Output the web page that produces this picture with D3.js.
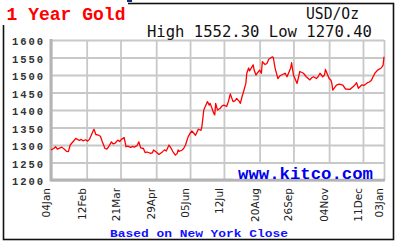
<!DOCTYPE html>
<html><head><meta charset="utf-8">
<script src="https://cdn.jsdelivr.net/npm/d3@7"></script>
<style>html,body{margin:0;padding:0;background:#fff}svg{display:block}</style>
</head><body>
<svg id="chart" width="398" height="246"></svg>
<script>
// ---- data ----
const dates = ["2019-01-04","2019-01-07","2019-01-09","2019-01-11","2019-01-14","2019-01-16","2019-01-18","2019-01-21","2019-01-23","2019-01-25","2019-01-29","2019-01-31","2019-02-04","2019-02-06","2019-02-08","2019-02-11","2019-02-13","2019-02-15","2019-02-19","2019-02-20","2019-02-22","2019-02-25","2019-02-27","2019-03-01","2019-03-04","2019-03-06","2019-03-08","2019-03-11","2019-03-13","2019-03-15","2019-03-18","2019-03-20","2019-03-22","2019-03-25","2019-03-27","2019-03-29","2019-04-01","2019-04-03","2019-04-05","2019-04-08","2019-04-10","2019-04-12","2019-04-15","2019-04-17","2019-04-19","2019-04-23","2019-04-25","2019-04-26","2019-04-29","2019-05-02","2019-05-06","2019-05-08","2019-05-10","2019-05-13","2019-05-15","2019-05-17","2019-05-20","2019-05-22","2019-05-23","2019-05-24","2019-05-27","2019-05-29","2019-05-31","2019-06-03","2019-06-05","2019-06-07","2019-06-11","2019-06-14","2019-06-17","2019-06-18","2019-06-20","2019-06-24","2019-06-26","2019-06-27","2019-07-01","2019-07-02","2019-07-03","2019-07-05","2019-07-08","2019-07-10","2019-07-12","2019-07-15","2019-07-17","2019-07-19","2019-07-22","2019-07-24","2019-07-26","2019-07-29","2019-07-30","2019-08-01","2019-08-02","2019-08-05","2019-08-06","2019-08-08","2019-08-09","2019-08-13","2019-08-14","2019-08-16","2019-08-20","2019-08-22","2019-08-23","2019-08-26","2019-08-28","2019-08-30","2019-09-03","2019-09-04","2019-09-06","2019-09-09","2019-09-11","2019-09-13","2019-09-17","2019-09-19","2019-09-23","2019-09-24","2019-09-26","2019-09-30","2019-10-03","2019-10-07","2019-10-10","2019-10-14","2019-10-16","2019-10-18","2019-10-21","2019-10-23","2019-10-25","2019-10-28","2019-10-30","2019-10-31","2019-11-04","2019-11-06","2019-11-07","2019-11-08","2019-11-12","2019-11-15","2019-11-19","2019-11-22","2019-11-27","2019-12-02","2019-12-04","2019-12-06","2019-12-10","2019-12-12","2019-12-16","2019-12-18","2019-12-20","2019-12-24","2019-12-27","2019-12-31","2020-01-02","2020-01-03"];
const prices = [1286,1290,1295,1288,1292,1294,1289,1282,1281,1300,1312,1319,1313,1316,1312,1315,1311,1316,1340,1345,1330,1328,1325,1310,1290,1288,1295,1309,1303,1305,1314,1310,1316,1321,1295,1297,1293,1296,1294,1298,1309,1292,1290,1278,1280,1276,1278,1286,1280,1273,1281,1286,1283,1300,1292,1282,1271,1276,1286,1282,1285,1290,1300,1324,1333,1340,1328,1345,1342,1354,1400,1424,1414,1419,1390,1386,1419,1400,1405,1412,1414,1410,1425,1446,1424,1426,1433,1424,1419,1440,1448,1476,1505,1520,1512,1529,1515,1500,1514,1505,1538,1530,1533,1545,1552,1550,1519,1490,1497,1500,1505,1495,1520,1535,1500,1476,1510,1505,1495,1486,1492,1495,1490,1495,1505,1495,1500,1516,1490,1485,1476,1457,1471,1474,1471,1460,1459,1471,1478,1462,1472,1470,1478,1480,1484,1505,1514,1520,1528,1552];
const yTicks = [1200,1250,1300,1350,1400,1450,1500,1550,1600];
const xTickDates = ["2019-01-04","2019-02-12","2019-03-21","2019-04-29","2019-06-05","2019-07-12","2019-08-20","2019-09-26","2019-11-04","2019-12-11","2020-01-03"];
const xTickLabels = ["04Jan","12Feb","21Mar","29Apr","05Jun","12Jul","20Aug","26Sep","04Nov","11Dec","03Jan"];
const titleText = "1 Year Gold";
const unitText = "USD/Oz";
const highLowText = "High 1552.30 Low 1270.40";
const footText = "Based on New York Close";
const brandText = "www.kitco.com";

// ---- drawing ----
const parse = d3.timeParse("%Y-%m-%d");
const svg = d3.select("#chart");
const L = 51, R = 384, T = 40, B = 180;
const x = d3.scaleTime().domain([parse(dates[0]), parse(dates[dates.length-1])]).range([L, R]);
const y = d3.scaleLinear().domain([1200, 1600]).range([B, T]);

svg.append("rect").attr("width",398).attr("height",246).attr("fill","#fff");
// outer frame
svg.append("rect").attr("x",3.5).attr("y",3.5).attr("width",390).attr("height",236)
  .attr("fill","none").attr("stroke","#111").attr("stroke-width",1.6);

// grid via axes
const gx = svg.append("g").attr("transform",`translate(0,${B})`)
  .call(d3.axisBottom(x).tickValues(xTickDates.map(parse)).tickSize(-(B-T)).tickFormat(""));
const gy = svg.append("g").attr("transform",`translate(${L},0)`)
  .call(d3.axisLeft(y).tickValues(yTicks).tickSize(-(R-L)).tickFormat(""));
[gx, gy].forEach(g => {
  g.select(".domain").remove();
  g.selectAll(".tick line").attr("stroke","#c8c8c8").attr("stroke-width",1.8);
});
// axis lines (thicker)
svg.append("line").attr("x1",L).attr("x2",L).attr("y1",T-1).attr("y2",B+1.5)
  .attr("stroke","#b4b4b4").attr("stroke-width",3);
svg.append("line").attr("x1",L).attr("x2",R+1).attr("y1",B).attr("y2",B)
  .attr("stroke","#b4b4b4").attr("stroke-width",3);

// brand box + text
svg.append("rect").attr("x",233).attr("y",164).attr("width",150).attr("height",14.5).attr("fill","#fff");
svg.append("text").attr("x",238).attr("y",179).attr("textLength",135).attr("lengthAdjust","spacingAndGlyphs")
  .attr("font-family","Liberation Mono").attr("font-weight","bold").attr("font-size",17)
  .attr("fill","#0000ee").text(brandText);

// price line
const data = dates.map((d,i)=>({d:parse(d), v:prices[i]}));
svg.append("path").datum(data)
  .attr("d", d3.line().x(p=>x(p.d)).y(p=>y(p.v)))
  .attr("fill","none").attr("stroke","#ff0000").attr("stroke-width",1.3).attr("stroke-linejoin","round");

// y labels
svg.append("g").selectAll("text").data(yTicks).join("text")
  .attr("x",12).attr("y",v=>y(v)+5).attr("textLength",31).attr("lengthAdjust","spacing")
  .attr("font-family","Liberation Mono").attr("font-weight","bold").attr("font-size",10.5)
  .attr("fill","#333").text(v=>v);

// x labels
svg.append("g").selectAll("text").data(xTickDates).join("text")
  .attr("transform",(d)=>`translate(${x(parse(d))-1},188) rotate(-90)`)
  .attr("text-anchor","end")
  .attr("font-family","DejaVu Sans").attr("font-size",10.5).attr("fill","#222")
  .text((d,i)=>xTickLabels[i]);

// title area
svg.append("rect").attr("x",0).attr("y",0).attr("width",128).attr("height",25).attr("fill","#fff");
svg.append("rect").attr("x",127).attr("y",0).attr("width",5).attr("height",2).attr("fill","#1a2a7a");
svg.append("text").attr("x",6.5).attr("y",20).attr("textLength",119).attr("lengthAdjust","spacingAndGlyphs")
  .attr("font-family","Liberation Mono").attr("font-weight","bold").attr("font-size",18)
  .attr("fill","#ff0000").text(titleText);
svg.append("text").attr("x",306).attr("y",18.5).attr("textLength",53).attr("lengthAdjust","spacingAndGlyphs")
  .attr("font-family","DejaVu Sans Mono").attr("font-size",15).attr("fill","#111").text(unitText);
svg.append("text").attr("x",147).attr("y",37).attr("textLength",225).attr("lengthAdjust","spacingAndGlyphs")
  .attr("font-family","DejaVu Sans Mono").attr("font-size",15.5).attr("fill","#111").text(highLowText);
svg.append("text").attr("x",110).attr("y",236.5).attr("textLength",178).attr("lengthAdjust","spacingAndGlyphs")
  .attr("font-family","Liberation Mono").attr("font-weight","bold").attr("font-size",11.5)
  .attr("fill","#1010ff").text(footText);
</script>
</body></html>
